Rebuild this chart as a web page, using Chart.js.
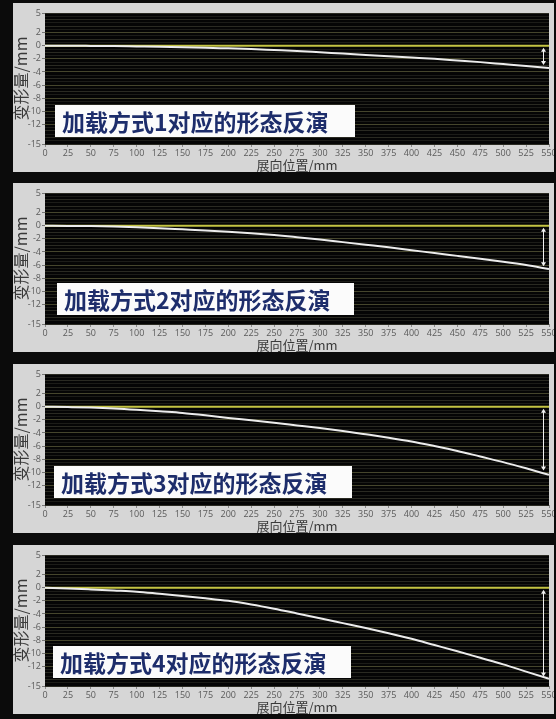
<!DOCTYPE html>
<html>
<head>
<meta charset="utf-8">
<script src="https://cdn.jsdelivr.net/npm/chart.js@4.4.1/dist/chart.umd.min.js"></script>
<style>
  html, body { margin: 0; padding: 0; background: #0b0b0b; }
  body { width: 556px; height: 719px; position: relative; overflow: hidden; }
  .panel { position: absolute; left: 13px; width: 541px; height: 169px; background: #d6d6d6; }
  .panel canvas { position: absolute; left: 0; top: 0; }
  .tag {
    position: absolute; height: 32px; line-height: 32px; background: #fbfbfb;
    color: #1d2d6b; font-family: "Noto Sans CJK SC", sans-serif; font-weight: 700;
    font-size: 23px; padding: 0 0 0 7px; box-sizing: border-box; white-space: nowrap;
  }
</style>
</head>
<body>
<script>
// Span positions along the wing (mm)
const positions = [0, 25, 50, 75, 100, 125, 150, 175, 200, 225, 250, 275, 300,
                   325, 350, 375, 400, 425, 450, 475, 500, 525, 550];

// Reconstructed deflection (mm) for each loading case
const deflection1 = [0, 0, -0.02, -0.05, -0.1, -0.15, -0.22, -0.3, -0.4, -0.5, -0.65, -0.8, -1.0,
                     -1.2, -1.4, -1.6, -1.8, -2.0, -2.25, -2.5, -2.8, -3.1, -3.4];
const deflection2 = [0, -0.02, -0.05, -0.12, -0.22, -0.38, -0.55, -0.72, -0.92, -1.15, -1.42, -1.75, -2.1,
                     -2.5, -2.9, -3.3, -3.75, -4.15, -4.6, -5.05, -5.5, -6.0, -6.6];
const deflection3 = [0, -0.05, -0.12, -0.25, -0.45, -0.7, -0.95, -1.3, -1.7, -2.07, -2.45, -2.85, -3.25,
                     -3.7, -4.2, -4.72, -5.3, -6.0, -6.75, -7.6, -8.45, -9.4, -10.4];
const deflection4 = [0, -0.1, -0.25, -0.42, -0.6, -0.92, -1.25, -1.6, -2.0, -2.55, -3.2, -3.92, -4.65,
                     -5.4, -6.15, -6.95, -7.8, -8.75, -9.7, -10.7, -11.7, -12.8, -13.9];

// Tip deflection marker: span station and measured depth for each case
const tipStation = 543;
const tipDepth = [-3.1, -6.35, -9.9, -13.7];

// Labelled y values and panel captions
const yTickLabels = [5, 2, 0, -2, -4, -6, -8, -10, -12, -15];
const captions = ['加载方式1对应的形态反演', '加载方式2对应的形态反演',
                  '加载方式3对应的形态反演', '加载方式4对应的形态反演'];
const xTitle = '展向位置/mm';
const yTitle = '变形量/mm';

const series = [deflection1, deflection2, deflection3, deflection4];
const panelTops = [3, 183, 364, 545];
const tagBoxes = [
  { left: 42, top: 102, width: 300 },
  { left: 44, top: 100, width: 297 },
  { left: 41, top: 102, width: 298 },
  { left: 40, top: 101, width: 298 }
];

const tickFont = { family: '"Open Sans", "Noto Sans", sans-serif', size: 9 };

// Black plot background
const plotBackground = {
  id: 'plotBackground',
  beforeDraw(chart) {
    const { ctx, chartArea: a } = chart;
    ctx.save();
    ctx.fillStyle = '#050505';
    ctx.fillRect(a.left, a.top, a.right - a.left, a.bottom - a.top);
    ctx.restore();
  }
};

// Double-headed arrow from the zero line down to the tip deflection
const tipArrow = {
  id: 'tipArrow',
  afterDatasetsDraw(chart, args, opts) {
    const { ctx, scales: { x, y } } = chart;
    const px = Math.round(x.getPixelForValue(opts.station)) + 0.5;
    const y0 = y.getPixelForValue(0) + 2;
    const y1 = y.getPixelForValue(opts.depth) - 1;
    ctx.save();
    ctx.strokeStyle = '#f2f2f2';
    ctx.fillStyle = '#f2f2f2';
    ctx.lineWidth = 1;
    ctx.beginPath();
    ctx.moveTo(px, y0 + 3);
    ctx.lineTo(px, y1 - 3);
    ctx.stroke();
    ctx.beginPath();
    ctx.moveTo(px, y0); ctx.lineTo(px - 2.5, y0 + 4); ctx.lineTo(px + 2.5, y0 + 4); ctx.closePath();
    ctx.fill();
    ctx.beginPath();
    ctx.moveTo(px, y1); ctx.lineTo(px - 2.5, y1 - 4); ctx.lineTo(px + 2.5, y1 - 4); ctx.closePath();
    ctx.fill();
    ctx.restore();
  }
};

series.forEach((values, i) => {
  const panel = document.createElement('div');
  panel.className = 'panel';
  panel.style.top = panelTops[i] + 'px';
  document.body.appendChild(panel);

  const canvas = document.createElement('canvas');
  canvas.width = 541;
  canvas.height = 169;
  canvas.style.width = '541px';
  canvas.style.height = '169px';
  panel.appendChild(canvas);

  const tag = document.createElement('div');
  tag.className = 'tag';
  tag.textContent = captions[i];
  tag.style.left = tagBoxes[i].left + 'px';
  tag.style.top = tagBoxes[i].top + 'px';
  tag.style.width = tagBoxes[i].width + 'px';
  panel.appendChild(tag);

  new Chart(canvas, {
    type: 'line',
    data: {
      datasets: [
        {
          data: [{ x: positions[0], y: 0 }, { x: positions[positions.length - 1], y: 0 }],
          borderColor: '#c4c443',
          borderWidth: 2,
          pointRadius: 0,
          order: 2
        },
        {
          data: positions.map((p, k) => ({ x: p, y: values[k] })),
          borderColor: '#ececec',
          borderWidth: 2,
          pointRadius: 0,
          cubicInterpolationMode: 'monotone',
          order: 1
        }
      ]
    },
    options: {
      responsive: false,
      animation: false,
      devicePixelRatio: 1,
      layout: { padding: { left: 0, right: 5, top: 10, bottom: 0 } },
      plugins: {
        legend: { display: false },
        tooltip: { enabled: false },
        tipArrow: { station: tipStation, depth: tipDepth[i] }
      },
      scales: {
        x: {
          type: 'linear',
          min: 0,
          max: 550,
          border: { display: false },
          grid: { drawOnChartArea: false, drawTicks: true, tickLength: 3, tickColor: '#8a8a8a' },
          ticks: { stepSize: 25, autoSkip: false, maxRotation: 0, padding: 1, color: '#5a5a5a', font: tickFont },
          title: {
            display: true, text: xTitle, color: '#3a3a3a', padding: 0,
            font: { family: '"Noto Sans CJK SC", sans-serif', size: 13, lineHeight: 1 }
          },
          afterFit(scale) { scale.height = 28; scale.paddingLeft = 0; scale.paddingRight = 0; }
        },
        y: {
          min: -15,
          max: 5,
          border: { display: false },
          grid: {
            drawTicks: true,
            tickLength: 3,
            color: ctx => yTickLabels.includes(ctx.tick.value) && ctx.tick.value !== 5 && ctx.tick.value !== -15
              ? '#45452c' : (Number.isInteger(ctx.tick.value) ? '#2a2a22' : '#1c1c18'),
            tickColor: ctx => yTickLabels.includes(ctx.tick.value) ? '#777' : 'rgba(0,0,0,0)'
          },
          ticks: {
            stepSize: 0.5,
            autoSkip: false,
            padding: 1,
            color: '#5a5a5a',
            font: tickFont,
            callback: v => (yTickLabels.includes(v) ? String(v) : '')
          },
          title: {
            display: true, text: yTitle, color: '#3a3a3a', padding: 0,
            font: { family: '"Noto Sans CJK SC", sans-serif', size: 16, lineHeight: 1 }
          },
          afterFit(scale) { scale.width = 32; scale.paddingTop = 0; scale.paddingBottom = 0; }
        }
      }
    },
    plugins: [plotBackground, tipArrow]
  });
});
</script>
</body>
</html>
